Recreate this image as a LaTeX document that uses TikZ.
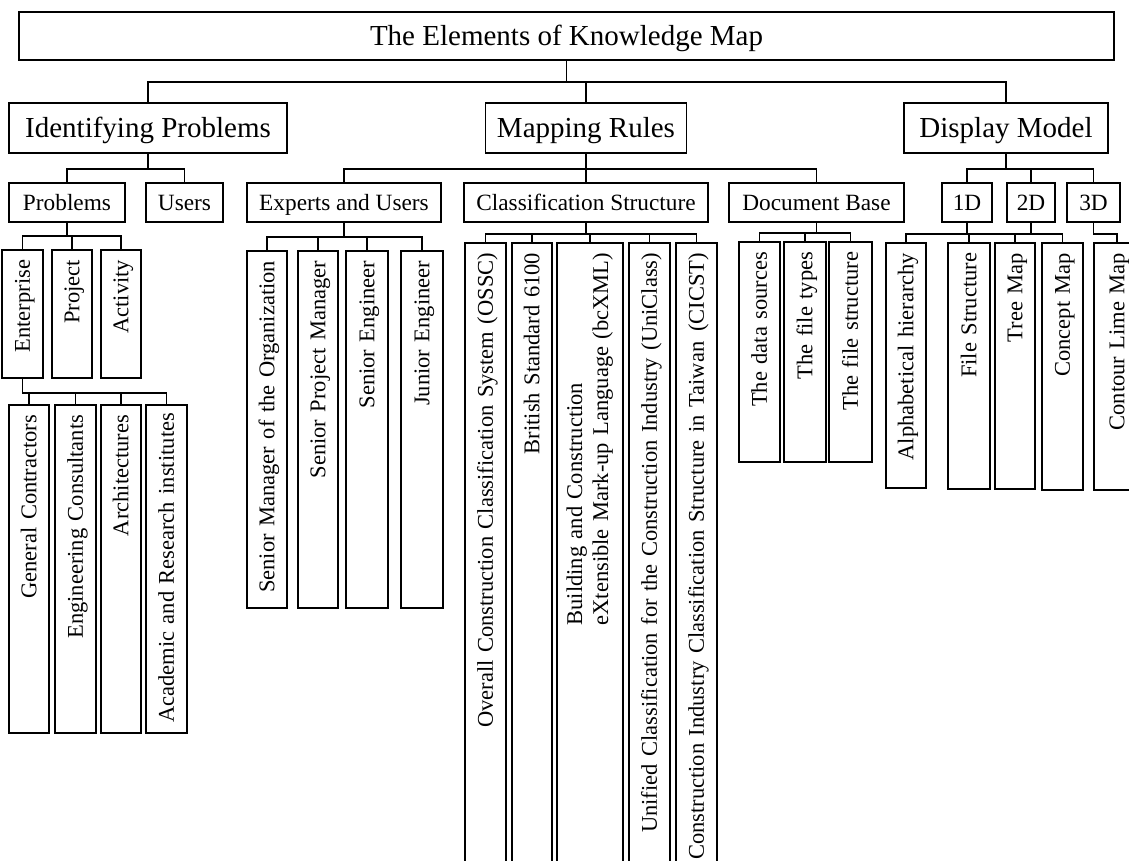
\documentclass[tikz,border=0pt]{standalone}
\usepackage{fontspec}
\setmainfont{Liberation Serif}
\newcommand\bigf{\fontsize{29}{32}\selectfont}
\newcommand\midf{\fontsize{23.3}{26}\selectfont}
\newcommand\vf{\fontsize{22.5}{26}\selectfont}
\tikzset{
  boxed/.style={draw, line width=1.8pt, inner sep=0pt},
  hbig/.style={boxed, align=center, font=\bigf, text height=19.2pt, text depth=0pt, minimum height=50pt},
  hmid/.style={boxed, align=center, font=\midf, text height=15.4pt, text depth=0pt, minimum height=39pt},
  vbx/.style={boxed, rotate=90, anchor=east, inner xsep=10pt, inner ysep=0pt, align=right, font=\vf, text height=14.9pt, text depth=0pt},
  conn/.style={draw, line width=1.8pt}
}
% [extra options] name, x-left, x-right, y-top, y-bottom, text
\newcommand{\VB}[7][]{%
  \pgfmathsetmacro\vbW{#4-#3}%
  \pgfmathsetmacro\vbL{#6-#5}%
  \pgfmathsetmacro\vbT{#6-#5-20}%
  \pgfmathsetmacro\vbX{(#3+#4)/2}%
  \node[vbx, #1, minimum height=\vbW pt, minimum width=\vbL pt, text width=\vbT pt] (#2) at (\vbX,-#5) {\mbox{#7}};}
\begin{document}
\begin{tikzpicture}[x=1pt,y=1pt]
\clip (0,0) rectangle (1129,-860);
\fill[white] (0,0) rectangle (1129,-860);

% level 0
\node[hbig, minimum width=1095pt, minimum height=48pt] (title) at (566.5,-36) {The Elements of Knowledge Map};
% level 1
\node[hbig, minimum width=278pt] (ip) at (148,-128) {Identifying Problems};
\node[hbig, minimum width=201pt] (mr) at (586,-128) {Mapping Rules};
\node[hbig, minimum width=204pt] (dm) at (1006,-128) {Display Model};
% level 2
\node[hmid, minimum width=116pt] (prob) at (67,-202.5) {Problems};
\node[hmid, minimum width=77pt] (users) at (184.5,-202.5) {Users};
\node[hmid, minimum width=194pt] (eu) at (344,-202.5) {Experts and Users};
\node[hmid, minimum width=244pt] (cs) at (586,-202.5) {Classification Structure};
\node[hmid, minimum width=175pt] (db) at (816.5,-202.5) {Document Base};
\node[hmid, minimum width=50pt] (d1) at (967,-202.5) {1D};
\node[hmid, minimum width=48pt] (d2) at (1031,-202.5) {2D};
\node[hmid, minimum width=53pt] (d3) at (1093.5,-202.5) {3D};

% vertical boxes
\VB{ent}{2}{43}{249}{377}{Enterprise}
\VB{proj}{52}{92}{249}{377}{Project}
\VB{act}{101}{141}{249}{377}{Activity}
\VB{gc}{9}{49}{404}{732}{General Contractors}
\VB{ec}{55}{96}{404}{732}{Engineering Consultants}
\VB{arch}{101}{141}{404}{732}{Architectures}
\VB{acad}{146}{187}{404}{732}{Academic and Research institutes}
\VB{sm}{247}{287}{250}{607}{Senior Manager of the Organization}
\VB{spm}{298}{338}{250}{607}{Senior Project Manager}
\VB{se}{346}{388}{250}{607}{Senior Engineer}
\VB{je}{401}{443}{250}{607}{Junior Engineer}
\VB{occs}{465}{506}{242}{880}{Overall Construction Classification System (OSSC)}
\VB{bs}{512}{552}{242}{880}{British Standard 6100}
\VB[text height={}, text depth={}]{bc}{557}{623}{242}{880}{\begin{tabular}{@{}l@{}}Building and Construction\\eXtensible Mark-up Language (bcXML)\end{tabular}}
\VB{uni}{629}{670}{242}{880}{Unified Classification for the Construction Industry (UniClass)}
\VB{cicst}{676}{717}{242}{880}{Construction Industry Classification Structure in Taiwan\hspace{10pt}(CICST)}
\VB{ds}{739}{780}{241}{461}{The data sources}
\VB{ft}{784}{826}{241}{461}{The file types}
\VB{fs}{829}{872}{241}{461}{The file structure}
\VB{alph}{886}{926}{242}{487}{Alphabetical hierarchy}
\VB{fst}{948}{990}{242}{488}{File Structure}
\VB{tree}{995}{1035}{242}{488}{Tree Map}
\VB{concept}{1042}{1083}{242}{489}{Concept Map}
\VB{contour}{1094}{1140}{242}{489}{Contour Lime Map}

% connectors
\foreach \c in {ip,mr,dm} \draw[conn] (title.south) -- ++(0,-21) -| (\c.north);
\foreach \c in {prob,users} \draw[conn] (ip.south) -- ++(0,-15) -| (\c.north);
\foreach \c in {eu,cs,db} \draw[conn] (mr.south) -- ++(0,-15) -| (\c.north);
\foreach \c in {d1,d2,d3} \draw[conn] (dm.south) -- ++(0,-15) -| (\c.north);
\foreach \c in {ent,proj,act} \draw[conn] (prob.south) -- ++(0,-13) -| (\c.east);
\foreach \c in {gc,ec,arch,acad} \draw[conn] (ent.west) -- ++(0,-14) -| (\c.east);
\foreach \c in {sm,spm,se,je} \draw[conn] (eu.south) -- ++(0,-14) -| (\c.east);
\foreach \c in {occs,bs,bc,uni,cicst} \draw[conn] (cs.south) -- ++(0,-11) -| (\c.east);
\foreach \c in {ds,ft,fs} \draw[conn] (db.south) -- ++(0,-10) -| (\c.east);
\draw[conn] (d1.south) -- ++(0,-11) -| (alph.east);
\foreach \c in {fst,tree,concept} \draw[conn] (d2.south) -- ++(0,-11) -| (\c.east);
\draw[conn] (d3.south) -- ++(0,-11) -| (contour.east);
\end{tikzpicture}
\end{document}
